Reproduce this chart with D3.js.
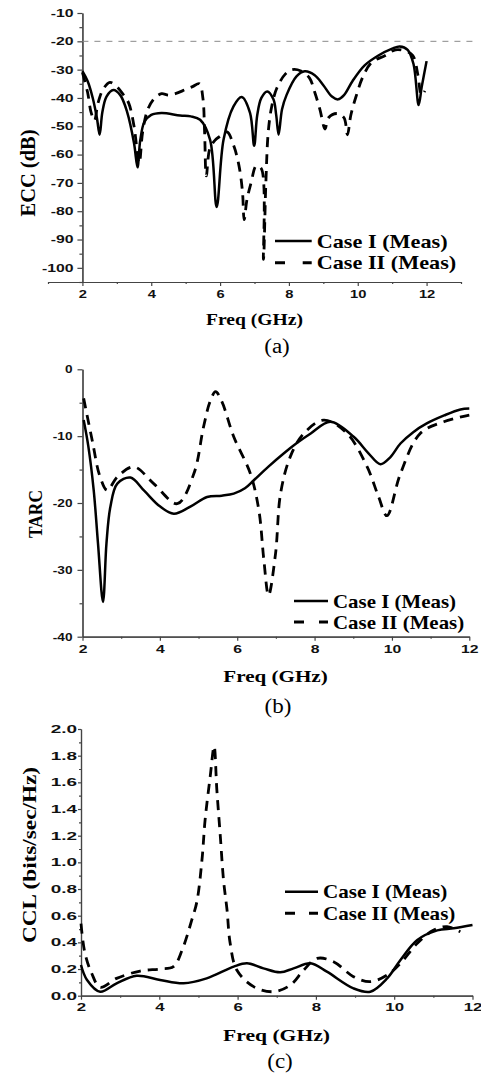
<!DOCTYPE html>
<html>
<head>
<meta charset="utf-8">
<script src="https://cdnjs.cloudflare.com/ajax/libs/d3/7.8.5/d3.min.js"></script>
<style>
  body { margin: 0; background: #fff; }
  svg { display: block; }
</style>
</head>
<body>
<svg id="chart" width="481" height="1078"></svg>
<script>
// ---- (a) ECC (dB) ----
var aFreqI = [2.0,2.15,2.3,2.42,2.5,2.58,2.7,2.9,3.1,3.3,3.5,3.6,3.68,3.8,4.0,4.3,4.84,5.15,5.42,5.71,5.9,6.1,6.39,6.63,6.87,6.99,7.08,7.2,7.37,7.55,7.63,7.7,7.8,7.93,8.22,8.46,8.75,9.0,9.25,9.43,9.6,9.85,10.2,10.6,11.0,11.22,11.45,11.62,11.77,11.86,12.0];
var aEccI  = [-30.5,-34,-40,-47,-53,-45,-39.5,-37.2,-39,-45,-56,-64.5,-55,-48.5,-46,-45.3,-46.2,-46.5,-47.7,-54.8,-78.5,-54.8,-43,-39.7,-45.3,-56.9,-46,-40,-37.7,-40.5,-46,-53,-44,-39,-32.4,-30.6,-32,-35.5,-39.5,-40.5,-39,-34,-28.5,-25,-22.6,-21.8,-23,-28,-42.5,-36,-27];
var aFreqII = [2.0,2.15,2.25,2.35,2.45,2.6,2.8,3.0,3.2,3.35,3.5,3.65,3.75,3.9,4.1,4.3,4.5,4.7,5.0,5.2,5.4,5.5,5.55,5.6,5.7,5.85,6.0,6.2,6.4,6.55,6.65,6.7,6.78,6.9,7.05,7.2,7.26,7.33,7.4,7.5,7.65,7.9,8.1,8.35,8.6,8.75,8.9,9.05,9.15,9.4,9.6,9.7,9.8,9.95,10.15,10.4,10.8,11.1,11.4,11.6,11.75,11.85,11.95];
var aEccII  = [-31,-38,-45,-48,-42,-37,-34.5,-36,-39,-42,-50,-63,-52,-44,-40,-38.5,-39,-38.5,-37,-36,-35,-40,-52,-67.5,-58,-55,-53.5,-52,-57,-64,-73,-83,-76,-70,-64,-65,-97,-70,-52,-43,-36.5,-31.5,-30,-30.5,-33,-38,-44,-51,-47,-45.5,-47,-53,-46,-39.5,-32.5,-27.5,-25,-23,-23.5,-25,-32,-39,-37.5];
var aYTicks = [-10,-20,-30,-40,-50,-60,-70,-80,-90,-100];
var aYMinor = [-15,-25,-35,-45,-55,-65,-75,-85,-95,-105];
var aXMinor = [1,3,5,7,9,11,13];

// ---- (b) TARC ----
var bFreqI = [2.03,2.15,2.29,2.4,2.53,2.62,2.72,2.9,3.24,3.6,4.0,4.36,4.8,5.22,5.6,5.91,6.2,6.43,6.8,7.2,7.55,7.9,8.41,9.01,9.4,9.7,9.95,10.22,10.55,10.9,11.35,11.77,12.0];
var bTarcI = [-7.6,-11.5,-18.1,-26,-34.8,-26,-20.6,-17.1,-16.2,-18.2,-20.5,-21.6,-20.5,-19.1,-18.9,-18.6,-17.8,-16.6,-14.6,-12.6,-11,-9.6,-7.85,-10.1,-12.6,-14.2,-13.2,-11.1,-9.4,-8.1,-6.9,-6.0,-5.85];
var bFreqII = [2.03,2.25,2.45,2.64,2.9,3.33,3.84,4.45,4.88,5.13,5.3,5.44,5.6,5.91,6.34,6.56,6.69,6.81,6.99,7.12,7.37,7.72,8.24,8.84,9.36,9.65,9.87,10.22,10.73,11.34,12.0];
var bTarcII = [-4.35,-10.6,-16,-18.1,-16.1,-14.6,-17.1,-20.1,-15.6,-8.6,-4.8,-3.35,-4.8,-10.1,-15.6,-21.1,-28.6,-33.8,-27.6,-18.6,-13.1,-9.6,-7.6,-9.6,-14.6,-19,-21.9,-15.6,-9.6,-7.85,-6.85];
var bYTicks = [0,-10,-20,-30,-40];
var bYMinor = [-5,-15,-25,-35];

// ---- (c) CCL ----
var cFreqI = [2.0,2.15,2.49,2.91,3.42,4.02,4.62,5.21,5.9,6.24,6.66,7.09,7.43,7.86,8.28,8.96,9.39,9.82,10.16,10.59,11.1,11.52,12.0];
var cCclI  = [0.23,0.12,0.03,0.093,0.15,0.118,0.093,0.13,0.218,0.243,0.205,0.175,0.205,0.243,0.18,0.055,0.03,0.13,0.268,0.418,0.49,0.505,0.53];
var cFreqII = [2.0,2.1,2.27,2.49,2.91,3.51,4.02,4.36,4.58,4.83,4.96,5.09,5.17,5.3,5.4,5.47,5.56,5.64,5.73,5.81,5.98,6.41,6.92,7.35,7.69,8.03,8.45,8.96,9.39,9.82,10.16,10.59,11.01,11.35,11.69];
var cCclII  = [0.54,0.32,0.17,0.063,0.13,0.185,0.2,0.218,0.34,0.568,0.705,1.018,1.318,1.643,1.87,1.543,1.19,0.868,0.643,0.393,0.193,0.068,0.03,0.08,0.193,0.28,0.255,0.143,0.105,0.155,0.243,0.393,0.493,0.518,0.48];
var cYTicks = [0,0.2,0.4,0.6,0.8,1.0,1.2,1.4,1.6,1.8,2.0];
var cYMinor = [0.1,0.3,0.5,0.7,0.9,1.1,1.3,1.5,1.7,1.9];

var xTicks = [2,4,6,8,10,12];
var xMinor = [3,5,7,9,11];
var caseNames = ['Case I (Meas)', 'Case II (Meas)'];

var SANS = "'Liberation Sans', Arial, sans-serif";
var SERIF = "'Liberation Serif', 'Times New Roman', serif";
var svg = d3.select('#chart');

// the picture is stretched sideways, so text is widened to match
function widen(sel, k) {
  sel.each(function () {
    var w = this.getComputedTextLength();
    d3.select(this).attr('textLength', w * k).attr('lengthAdjust', 'spacingAndGlyphs');
  });
}

// plain hyphen, like the original plot
var intFmt = function (d) { return String(d); };

function drawPanel(p) {
  var x = d3.scaleLinear().domain(p.xDomain).range(p.xRange);
  var y = d3.scaleLinear().domain(p.yDomain).range(p.yRange);
  var g = svg.append('g');
  var axisY = y(p.yDomain[0]), axisX = x(2);

  g.append('g').attr('transform', 'translate(0,' + axisY + ')')
    .call(d3.axisBottom(x).tickValues(p.xMinor).tickSize(2).tickSizeOuter(0).tickFormat(''));
  g.append('g').attr('transform', 'translate(' + axisX + ',0)')
    .call(d3.axisLeft(y).tickValues(p.yMinor).tickSize(p.yMinorLen).tickSizeOuter(0).tickFormat(''));

  var xa = g.append('g').attr('transform', 'translate(0,' + axisY + ')')
    .call(d3.axisBottom(x).tickValues(xTicks).tickSize(4).tickSizeOuter(0).tickPadding(p.xPad).tickFormat(intFmt));
  var ya = g.append('g').attr('transform', 'translate(' + axisX + ',0)')
    .call(d3.axisLeft(y).tickValues(p.yTicks).tickSize(p.yTickLen).tickSizeOuter(0).tickPadding(p.yPad).tickFormat(p.yFormat));

  g.selectAll('.domain, .tick line').attr('stroke', '#444').attr('stroke-width', 1.2);
  g.selectAll('.tick text').attr('font-family', SANS).attr('font-weight', 'bold')
    .attr('font-size', 10.5).attr('fill', '#111');
  widen(xa.selectAll('text'), p.xStretch);
  widen(ya.selectAll('text'), p.yStretch);

  if (p.refLine != null) {
    g.append('line')
      .attr('x1', axisX).attr('x2', x(13.5))
      .attr('y1', y(p.refLine)).attr('y2', y(p.refLine))
      .attr('stroke', '#8a8a8a').attr('stroke-width', 1).attr('stroke-dasharray', '6,6');
  }

  var line = d3.line()
    .x(function (d) { return x(d[0]); })
    .y(function (d) { return y(d[1]); })
    .curve(d3.curveCatmullRom.alpha(0.5));

  p.series.forEach(function (s) {
    g.append('path')
      .attr('d', line(d3.zip(s.f, s.v)))
      .attr('fill', 'none').attr('stroke', '#000')
      .attr('stroke-width', s.dashed ? 2.8 : 2.5)
      .attr('stroke-dasharray', s.dashed ? '10,7' : null);
  });

  // legend
  var L = p.legend;
  caseNames.forEach(function (name, i) {
    var ly = L.y + i * L.gap;
    g.append('line')
      .attr('x1', L.x).attr('x2', L.x + L.len).attr('y1', ly).attr('y2', ly)
      .attr('stroke', '#000').attr('stroke-width', i ? 3 : 2.5)
      .attr('stroke-dasharray', i ? '10,' + (L.len - 19) : null);
    var t = g.append('text')
      .attr('x', L.x + L.len + 5).attr('y', ly + 6.5)
      .attr('font-family', SERIF).attr('font-weight', 'bold').attr('font-size', 19)
      .text(name);
    widen(t, L.k);
  });

  // axis titles
  g.append('text')
    .attr('transform', 'translate(' + p.ylab.x + ',' + p.ylab.y + ') rotate(-90)')
    .attr('text-anchor', 'middle')
    .attr('font-family', SERIF).attr('font-weight', 'bold').attr('font-size', p.ylab.size)
    .attr('textLength', p.ylab.len).attr('lengthAdjust', 'spacingAndGlyphs')
    .text(p.ylab.text);

  var xt = g.append('text')
    .attr('x', p.xlab.x).attr('y', p.xlab.y).attr('text-anchor', 'middle')
    .attr('font-family', SERIF).attr('font-weight', 'bold').attr('font-size', 17)
    .text('Freq (GHz)');
  widen(xt, p.xlab.k);

  var cap = g.append('text')
    .attr('x', p.cap.x).attr('y', p.cap.y).attr('text-anchor', 'middle')
    .attr('font-family', SERIF).attr('font-size', 20)
    .text(p.cap.text);
  widen(cap, 1.15);
}

drawPanel({
  xDomain: [1, 13], xRange: [48, 461],
  yDomain: [-105, -10], yRange: [282, 13],
  xMinor: aXMinor, yTicks: aYTicks, yMinor: aYMinor,
  yFormat: intFmt, yTickLen: 5, yMinorLen: 3, yPad: 4, xPad: 5,
  xStretch: 1.4, yStretch: 1.5, refLine: -20,
  series: [{ f: aFreqI, v: aEccI, dashed: false }, { f: aFreqII, v: aEccII, dashed: true }],
  legend: { x: 275, y: 241, gap: 21.7, len: 36.7, k: 1.17 },
  ylab: { text: 'ECC (dB)', x: 35, y: 173, len: 87, size: 20 },
  xlab: { x: 254.5, y: 325, k: 1.15 },
  cap: { text: '(a)', x: 277, y: 353 }
});

drawPanel({
  xDomain: [2, 12], xRange: [82.5, 469.3],
  yDomain: [-40, 0], yRange: [636.7, 369.3],
  xMinor: xMinor, yTicks: bYTicks, yMinor: bYMinor,
  yFormat: intFmt, yTickLen: 5, yMinorLen: 3, yPad: 5, xPad: 5,
  xStretch: 1.5, yStretch: 1.3, refLine: null,
  series: [{ f: bFreqI, v: bTarcI, dashed: false }, { f: bFreqII, v: bTarcII, dashed: true }],
  legend: { x: 294, y: 601, gap: 21, len: 34, k: 1.1 },
  ylab: { text: 'TARC', x: 42, y: 514, len: 48, size: 19 },
  xlab: { x: 275.5, y: 682, k: 1.24 },
  cap: { text: '(b)', x: 278, y: 713 }
});

drawPanel({
  xDomain: [2, 12], xRange: [81, 472.5],
  yDomain: [0, 2], yRange: [995.7, 729],
  xMinor: xMinor, yTicks: cYTicks, yMinor: cYMinor,
  yFormat: d3.format('.1f'), yTickLen: 3, yMinorLen: 2, yPad: 1, xPad: 4,
  xStretch: 1.6, yStretch: 1.8, refLine: null,
  series: [{ f: cFreqI, v: cCclI, dashed: false }, { f: cFreqII, v: cCclII, dashed: true }],
  legend: { x: 285, y: 891.7, gap: 21.6, len: 33, k: 1.11 },
  ylab: { text: 'CCL (bits/sec/Hz)', x: 36, y: 855, len: 176, size: 19 },
  xlab: { x: 276.5, y: 1040.5, k: 1.27 },
  cap: { text: '(c)', x: 280, y: 1068 }
});
</script>
</body>
</html>
